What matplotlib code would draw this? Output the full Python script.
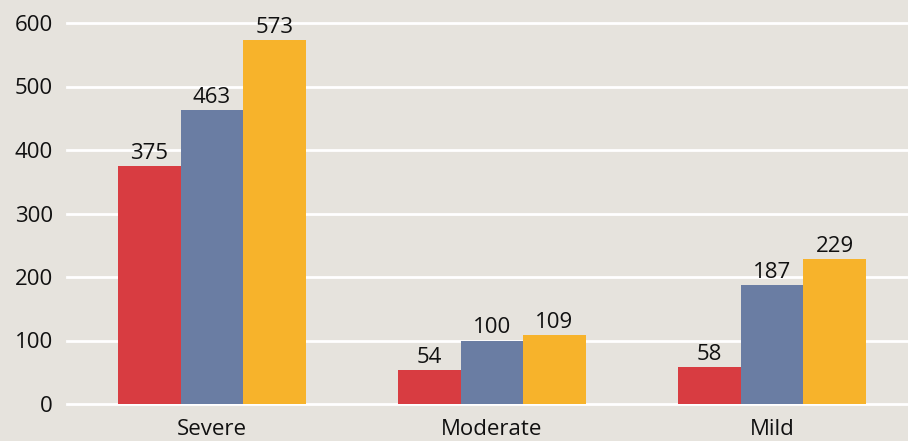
import matplotlib
matplotlib.use("Agg")
import matplotlib.pyplot as plt
import numpy as np

# ── Data ──────────────────────────────────────────────────────────────────────
categories = ["Severe", "Moderate", "Mild"]
series_a = [375, 54, 58]
series_b = [463, 100, 187]
series_c = [573, 109, 229]
yticks = [0, 100, 200, 300, 400, 500, 600]

COLORS = ["#D83C41", "#6A7DA3", "#F7B32B"]
BG = "#E6E3DD"

plt.rcParams.update({
    "font.family": ["Open Sans", "DejaVu Sans"],
    "font.size": 16,
})

fig = plt.figure(figsize=(9.08, 4.41), dpi=100, facecolor=BG)
ax = fig.add_axes([67 / 908, 37 / 441, 1 - 67 / 908, 381 / 441], facecolor=BG)

x = np.arange(len(categories))
w = 0.223
for i, (vals, col) in enumerate(zip([series_a, series_b, series_c], COLORS)):
    bars = ax.bar(x + (i - 1) * w, vals, w, color=col, zorder=3)
    for bar, v in zip(bars, vals):
        ax.annotate(f"{v}", (bar.get_x() + bar.get_width() / 2, v),
                    xytext=(0, 1.5), textcoords="offset points",
                    ha="center", va="bottom", fontsize=16, color="#111111",
                    annotation_clip=False, zorder=4)

ax.set_xlim(-0.517, 2.485)
ax.set_ylim(0, 600)
ax.set_yticks(yticks)
ax.set_xticks(x)
ax.set_xticklabels(categories)
ax.grid(axis="y", color="white", linewidth=2, zorder=1)
ax.set_axisbelow(True)
for s in ax.spines.values():
    s.set_visible(False)
ax.tick_params(axis="both", length=0, labelsize=16, colors="#111111")
ax.tick_params(axis="y", pad=10)
ax.tick_params(axis="x", pad=10.5)
for gl in ax.get_ygridlines():
    gl.set_clip_on(False)

fig.savefig("out.png", dpi=100, facecolor=BG)
